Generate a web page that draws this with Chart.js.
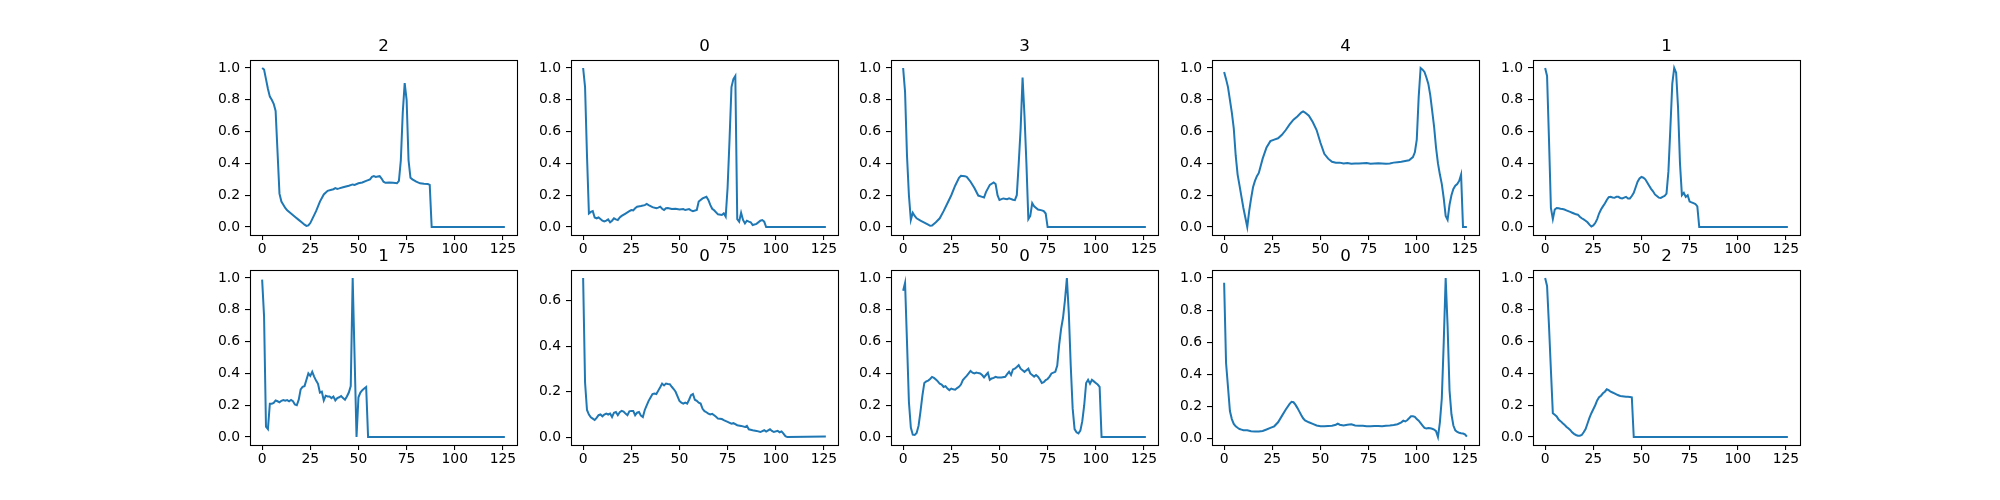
<!DOCTYPE html>
<html>
<head>
<meta charset="utf-8">
<script src="https://cdn.jsdelivr.net/npm/chart.js@4.4.0/dist/chart.umd.min.js"></script>
<style>
  body { margin: 0; background: #fff; }
  #fig { position: relative; width: 2000px; height: 500px; overflow: hidden; }
  #fig canvas { position: absolute; }
</style>
</head>
<body>
<div id="fig"></div>
<script>
// subplot titles (class labels) and tick values
const titles = ['2', '0', '3', '4', '1', '1', '0', '0', '0', '2'];
const xTicks = [0, 25, 50, 75, 100, 125];
const yTicks = [0, 0.2, 0.4, 0.6, 0.8, 1.0];

// each beat: [sample index, amplitude]
const beat0 = [[0,1.0],[1,0.99],[2,0.93],[3,0.87],[4,0.82],[5,0.80],[6,0.775],[7,0.73],[8,0.47],[9,0.21],[10,0.16],[11,0.14],[12,0.12],[13,0.105],[15,0.085],[17,0.065],[19,0.045],[21,0.025],[22,0.015],[23,0.007],[24,0.01],[25,0.025],[26,0.05],[28,0.10],[30,0.16],[32,0.205],[34,0.228],[36,0.235],[37,0.238],[38,0.245],[39,0.24],[40,0.243],[42,0.25],[45,0.26],[47,0.268],[48,0.265],[50,0.275],[52,0.28],[54,0.29],[56,0.30],[57,0.315],[58,0.32],[59,0.315],[60,0.318],[61,0.32],[62,0.305],[63,0.285],[64,0.278],[66,0.28],[68,0.278],[70,0.275],[71,0.29],[72,0.42],[73,0.72],[74,0.905],[75,0.80],[76,0.42],[77,0.31],[78,0.30],[80,0.285],[82,0.275],[84,0.272],[86,0.27],[87,0.265],[88,0.0],[126,0.0]];
const beat1 = [[0,1.0],[1,0.88],[2,0.45],[3,0.085],[4,0.095],[5,0.1],[6,0.06],[7,0.055],[8,0.06],[9,0.05],[10,0.04],[11,0.035],[12,0.04],[13,0.048],[14,0.03],[15,0.04],[16,0.055],[17,0.048],[18,0.044],[19,0.06],[20,0.07],[22,0.085],[24,0.1],[25,0.107],[26,0.105],[27,0.118],[28,0.128],[30,0.132],[32,0.138],[33,0.145],[34,0.138],[36,0.125],[38,0.118],[39,0.122],[40,0.128],[41,0.115],[42,0.107],[43,0.118],[44,0.12],[46,0.113],[48,0.115],[50,0.11],[52,0.113],[53,0.107],[55,0.113],[56,0.105],[57,0.1],[59,0.107],[60,0.16],[62,0.18],[64,0.19],[65,0.17],[66,0.139],[67,0.115],[68,0.105],[70,0.08],[72,0.076],[73,0.086],[74,0.065],[75,0.25],[76,0.55],[77,0.88],[78,0.93],[79,0.95],[80,0.05],[81,0.034],[82,0.09],[83,0.045],[84,0.023],[85,0.04],[86,0.034],[87,0.03],[88,0.013],[90,0.02],[92,0.04],[93,0.044],[94,0.034],[95,0.0],[126,0.0]];
const beat2 = [[0,1.0],[1,0.85],[2,0.45],[3,0.2],[4,0.045],[5,0.09],[6,0.07],[7,0.055],[9,0.04],[11,0.028],[13,0.015],[14,0.008],[15,0.01],[17,0.03],[19,0.055],[21,0.1],[23,0.15],[25,0.2],[27,0.26],[29,0.31],[30,0.322],[32,0.32],[33,0.315],[35,0.285],[37,0.245],[39,0.198],[41,0.19],[42,0.186],[43,0.22],[45,0.265],[47,0.28],[48,0.27],[49,0.2],[50,0.17],[52,0.18],[54,0.175],[55,0.18],[57,0.172],[58,0.17],[59,0.2],[60,0.4],[61,0.62],[62,0.94],[63,0.7],[64,0.4],[65,0.05],[66,0.07],[67,0.15],[68,0.13],[70,0.11],[72,0.105],[73,0.1],[74,0.085],[75,0.0],[126,0.0]];
const beat3 = [[0,0.975],[1,0.93],[2,0.88],[3,0.8],[4,0.72],[5,0.62],[6,0.45],[7,0.33],[8,0.26],[9,0.19],[10,0.12],[11,0.06],[12,0.0],[13,0.1],[14,0.18],[15,0.25],[16,0.29],[17,0.32],[18,0.34],[20,0.43],[22,0.5],[24,0.54],[26,0.55],[28,0.558],[30,0.58],[32,0.61],[34,0.645],[36,0.675],[38,0.695],[40,0.72],[41,0.727],[42,0.72],[44,0.7],[46,0.66],[48,0.61],[50,0.53],[52,0.46],[54,0.43],[56,0.41],[58,0.405],[60,0.405],[62,0.4],[64,0.402],[66,0.398],[68,0.4],[70,0.4],[72,0.401],[74,0.402],[76,0.398],[78,0.4],[80,0.401],[82,0.4],[84,0.398],[86,0.4],[88,0.405],[90,0.408],[92,0.41],[94,0.415],[96,0.42],[98,0.44],[99,0.47],[100,0.55],[101,0.82],[102,1.0],[103,0.99],[104,0.975],[105,0.94],[106,0.9],[107,0.83],[108,0.73],[109,0.63],[110,0.5],[111,0.4],[112,0.33],[113,0.27],[114,0.18],[115,0.07],[116,0.045],[117,0.14],[118,0.2],[119,0.24],[120,0.26],[121,0.27],[122,0.29],[123,0.33],[124,0.0],[126,0.0]];
const beat4 = [[0,1.0],[1,0.95],[2,0.55],[3,0.12],[4,0.05],[5,0.11],[6,0.12],[7,0.118],[8,0.115],[9,0.113],[10,0.11],[11,0.105],[12,0.1],[13,0.095],[14,0.09],[15,0.085],[16,0.08],[17,0.078],[18,0.065],[19,0.055],[20,0.048],[21,0.04],[22,0.03],[23,0.015],[24,0.003],[25,0.01],[26,0.025],[27,0.05],[28,0.085],[29,0.11],[30,0.13],[31,0.148],[32,0.17],[33,0.188],[34,0.19],[35,0.186],[36,0.184],[37,0.19],[38,0.19],[39,0.183],[40,0.18],[41,0.185],[42,0.19],[43,0.18],[44,0.18],[45,0.195],[46,0.215],[47,0.25],[48,0.285],[49,0.305],[50,0.315],[51,0.31],[52,0.3],[53,0.28],[54,0.26],[55,0.24],[56,0.225],[57,0.205],[58,0.195],[59,0.185],[60,0.183],[61,0.19],[62,0.195],[63,0.21],[64,0.35],[65,0.62],[66,0.9],[67,1.0],[68,0.97],[69,0.75],[70,0.4],[71,0.2],[72,0.215],[73,0.19],[74,0.2],[75,0.16],[76,0.155],[77,0.15],[78,0.145],[79,0.13],[80,0.0],[126,0.0]];
const beat5 = [[0,0.99],[1,0.76],[2,0.065],[3,0.05],[4,0.21],[5,0.21],[6,0.215],[7,0.23],[8,0.225],[9,0.218],[10,0.228],[11,0.233],[12,0.228],[13,0.232],[14,0.225],[15,0.233],[16,0.225],[17,0.205],[18,0.2],[19,0.235],[20,0.3],[21,0.315],[22,0.32],[23,0.36],[24,0.4],[25,0.385],[26,0.41],[27,0.38],[28,0.355],[29,0.335],[30,0.28],[31,0.285],[32,0.23],[33,0.26],[34,0.255],[35,0.255],[36,0.245],[37,0.255],[38,0.23],[39,0.245],[40,0.25],[41,0.258],[42,0.245],[43,0.235],[44,0.255],[45,0.28],[46,0.32],[47,1.0],[48,0.5],[49,0.0],[50,0.25],[51,0.28],[52,0.295],[53,0.305],[54,0.315],[55,0.0],[126,0.0]];
const beat6 = [[0,0.70],[1,0.24],[2,0.12],[3,0.1],[4,0.088],[5,0.082],[6,0.076],[7,0.085],[8,0.097],[9,0.1],[10,0.092],[11,0.1],[12,0.104],[13,0.1],[14,0.104],[15,0.089],[16,0.108],[17,0.111],[18,0.097],[19,0.11],[20,0.116],[21,0.113],[22,0.104],[23,0.097],[24,0.114],[25,0.116],[26,0.116],[27,0.097],[28,0.108],[29,0.111],[30,0.095],[31,0.089],[32,0.12],[33,0.14],[34,0.16],[35,0.175],[36,0.19],[37,0.192],[38,0.19],[39,0.205],[40,0.22],[41,0.236],[42,0.228],[43,0.236],[44,0.234],[45,0.233],[46,0.222],[47,0.212],[48,0.2],[49,0.18],[50,0.16],[51,0.152],[52,0.148],[53,0.152],[54,0.148],[55,0.165],[56,0.185],[57,0.19],[58,0.165],[59,0.16],[60,0.152],[61,0.148],[62,0.125],[63,0.115],[64,0.11],[65,0.104],[66,0.1],[67,0.103],[68,0.097],[69,0.09],[70,0.082],[72,0.08],[73,0.075],[75,0.068],[77,0.06],[78,0.062],[80,0.053],[82,0.05],[84,0.045],[85,0.05],[86,0.035],[88,0.031],[90,0.028],[92,0.023],[94,0.031],[95,0.025],[97,0.035],[98,0.028],[99,0.023],[101,0.028],[102,0.022],[103,0.026],[104,0.016],[105,0.005],[106,0.001],[126,0.003]];
const beat7 = [[0,0.92],[1,0.97],[2,0.6],[3,0.22],[4,0.06],[5,0.015],[6,0.013],[7,0.025],[8,0.07],[9,0.16],[10,0.26],[11,0.34],[12,0.35],[13,0.355],[14,0.365],[15,0.378],[16,0.372],[17,0.362],[18,0.35],[19,0.335],[20,0.33],[21,0.315],[22,0.32],[23,0.305],[24,0.295],[25,0.305],[26,0.3],[27,0.298],[28,0.308],[29,0.316],[30,0.33],[31,0.358],[32,0.372],[33,0.385],[34,0.4],[35,0.416],[36,0.405],[37,0.4],[38,0.405],[39,0.402],[40,0.4],[41,0.39],[42,0.375],[43,0.39],[44,0.404],[45,0.36],[46,0.368],[47,0.372],[48,0.379],[49,0.375],[51,0.375],[53,0.379],[54,0.395],[55,0.41],[56,0.39],[57,0.425],[58,0.43],[59,0.44],[60,0.452],[61,0.43],[62,0.42],[63,0.41],[64,0.42],[65,0.43],[66,0.4],[67,0.39],[68,0.38],[69,0.39],[70,0.38],[71,0.362],[72,0.34],[73,0.345],[74,0.358],[75,0.365],[76,0.38],[77,0.4],[78,0.405],[79,0.41],[80,0.45],[81,0.58],[82,0.68],[83,0.75],[84,0.86],[85,1.0],[86,0.78],[87,0.45],[88,0.18],[89,0.05],[90,0.03],[91,0.023],[92,0.04],[93,0.1],[94,0.2],[95,0.34],[96,0.36],[97,0.335],[98,0.36],[99,0.35],[100,0.34],[101,0.33],[102,0.316],[103,0.0],[126,0.0]];
const beat8 = [[0,0.97],[1,0.47],[2,0.32],[3,0.17],[4,0.12],[5,0.09],[6,0.075],[7,0.066],[8,0.058],[9,0.054],[10,0.05],[12,0.05],[14,0.044],[16,0.042],[18,0.043],[20,0.046],[22,0.055],[24,0.065],[26,0.075],[28,0.1],[30,0.14],[32,0.18],[34,0.215],[35,0.228],[36,0.225],[37,0.21],[38,0.19],[39,0.168],[40,0.145],[41,0.125],[42,0.112],[44,0.1],[46,0.09],[48,0.08],[50,0.075],[52,0.075],[54,0.077],[56,0.079],[58,0.085],[59,0.092],[60,0.085],[62,0.08],[64,0.085],[66,0.088],[68,0.08],[70,0.078],[72,0.079],[74,0.076],[76,0.075],[78,0.077],[80,0.077],[82,0.076],[84,0.078],[86,0.08],[88,0.083],[90,0.088],[92,0.1],[93,0.11],[94,0.105],[95,0.113],[96,0.125],[97,0.138],[98,0.138],[99,0.134],[100,0.12],[101,0.11],[102,0.095],[103,0.08],[104,0.065],[105,0.062],[106,0.065],[107,0.063],[108,0.06],[109,0.055],[110,0.045],[111,0.008],[112,0.1],[113,0.25],[114,0.6],[115,1.0],[116,0.7],[117,0.3],[118,0.15],[119,0.08],[120,0.05],[121,0.04],[122,0.035],[123,0.032],[124,0.03],[125,0.025],[126,0.01]];
const beat9 = [[0,1.0],[1,0.95],[2,0.7],[3,0.42],[4,0.15],[5,0.14],[6,0.13],[7,0.11],[8,0.1],[9,0.088],[10,0.078],[11,0.065],[12,0.055],[13,0.045],[14,0.03],[15,0.02],[16,0.013],[17,0.008],[18,0.008],[19,0.013],[20,0.03],[21,0.05],[22,0.085],[23,0.12],[24,0.15],[25,0.175],[26,0.2],[27,0.23],[28,0.25],[29,0.26],[30,0.275],[31,0.285],[32,0.3],[33,0.295],[34,0.285],[35,0.28],[36,0.275],[37,0.268],[38,0.263],[39,0.258],[40,0.257],[41,0.255],[42,0.253],[43,0.253],[44,0.252],[45,0.25],[46,0.0],[126,0.0]];

const beats = [beat0, beat1, beat2, beat3, beat4, beat5, beat6, beat7, beat8, beat9];

Chart.defaults.font.family = "'DejaVu Sans', sans-serif";
Chart.defaults.color = '#000';

// matplotlib-like box around the axes
const frame = {
  id: 'frame',
  afterDraw(chart) {
    const a = chart.chartArea;
    const ctx = chart.ctx;
    ctx.save();
    ctx.strokeStyle = '#000';
    ctx.lineWidth = 1.1;
    ctx.strokeRect(Math.round(a.left) + 0.5, Math.round(a.top) + 0.5,
      Math.round(a.right - a.left), Math.round(a.bottom - a.top));
    ctx.restore();
  }
};

function margins(lo, hi) {
  const m = (hi - lo) * 0.05;
  return [lo - m, hi + m];
}

const fig = document.getElementById('fig');
const colLeft = [250, 571, 891, 1212, 1533];
const rowTop = [60, 270];
const LEFT = 60, RIGHT = 60, TOP = 30, BOTTOM = 30;
const AX_W = 267, AX_H = 175;

beats.forEach((beat, i) => {
  const col = i % 5, row = Math.floor(i / 5);
  const canvas = document.createElement('canvas');
  canvas.width = LEFT + AX_W + RIGHT;
  canvas.height = TOP + AX_H + BOTTOM;
  canvas.style.left = (colLeft[col] - LEFT) + 'px';
  canvas.style.top = (rowTop[row] - TOP) + 'px';
  fig.appendChild(canvas);

  const xs = beat.map(p => p[0]);
  const ys = beat.map(p => p[1]);
  const [xMin, xMax] = margins(Math.min(...xs), Math.max(...xs));
  const [yMin, yMax] = margins(Math.min(...ys), Math.max(...ys));

  new Chart(canvas, {
    type: 'line',
    data: {
      datasets: [{
        data: beat.map(p => ({ x: p[0], y: p[1] })),
        borderColor: '#1f77b4',
        borderWidth: 2,
        pointRadius: 0,
        tension: 0,
        fill: false
      }]
    },
    options: {
      responsive: false,
      animation: false,
      devicePixelRatio: 1,
      plugins: {
        legend: { display: false },
        tooltip: { enabled: false },
        title: {
          display: true,
          text: titles[i],
          font: { size: 16.7, weight: 'normal' },
          padding: { top: 7, bottom: 3 }
        }
      },
      scales: {
        x: {
          type: 'linear',
          min: xMin,
          max: xMax,
          afterBuildTicks: s => { s.ticks = xTicks.map(v => ({ value: v })); },
          afterFit: s => { s.height = BOTTOM; },
          ticks: { font: { size: 13.9 }, padding: 1, maxRotation: 0, autoSkip: false, callback: v => String(v) },
          grid: { drawOnChartArea: false, tickLength: 5, color: '#000', lineWidth: 1.1 },
          border: { display: false }
        },
        y: {
          type: 'linear',
          min: yMin,
          max: yMax,
          afterBuildTicks: s => {
            s.ticks = yTicks.filter(v => v >= s.min && v <= s.max).map(v => ({ value: v }));
          },
          afterFit: s => { s.width = LEFT; },
          ticks: { font: { size: 13.9 }, padding: 5, autoSkip: false, callback: v => v.toFixed(1) },
          grid: { drawOnChartArea: false, tickLength: 5, color: '#000', lineWidth: 1.1 },
          border: { display: false }
        },
        // empty right-hand strip so the title centres over the axes box
        spacer: {
          type: 'linear',
          position: 'right',
          display: true,
          afterFit: s => { s.width = RIGHT; },
          ticks: { display: false },
          grid: { display: false },
          border: { display: false }
        }
      }
    },
    plugins: [frame]
  });
});
</script>
</body>
</html>
